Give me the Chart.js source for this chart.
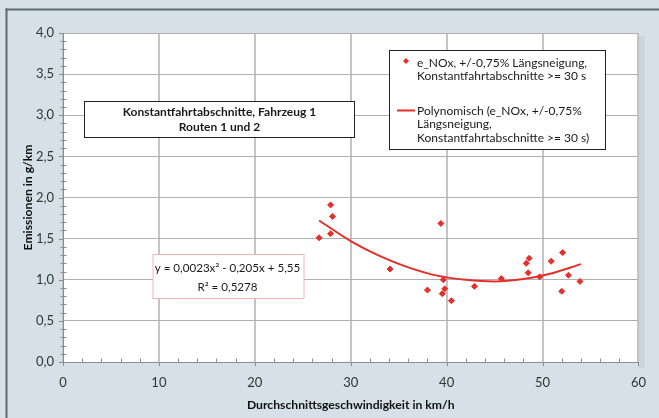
<!DOCTYPE html>
<html>
<head>
<meta charset="utf-8">
<script src="https://cdn.jsdelivr.net/npm/chart.js@4/dist/chart.umd.min.js"></script>
<style>
html,body{margin:0;padding:0;background:#d5e0e7;}
canvas{display:block;}
</style>
</head>
<body>
<canvas id="c" width="659" height="418"></canvas>
<script>
// ---- data ----
const speedKmh = [26.7, 27.9, 28.1, 27.9, 34.1, 38.0, 39.4, 39.65, 39.8, 39.55, 40.5, 42.9, 45.7, 48.3, 48.6, 48.5, 49.7, 50.9, 52.1, 52.0, 52.7, 53.9];
const noxGkm   = [1.51, 1.91, 1.77, 1.56, 1.13, 0.875, 1.685, 1.0, 0.89, 0.83, 0.745, 0.92, 1.015, 1.20, 1.26, 1.085, 1.035, 1.225, 1.33, 0.86, 1.055, 0.98];
const trendX = [26.7, 30, 33, 36, 39, 42, 45, 48, 51, 54];
const trendY = [1.72, 1.47, 1.29, 1.15, 1.05, 1.00, 0.98, 1.01, 1.08, 1.19];
const xTicks = [0, 10, 20, 30, 40, 50, 60];
const yTicks = [0, 0.5, 1.0, 1.5, 2.0, 2.5, 3.0, 3.5, 4.0];
const seriesLabel = ['e_NOx, +/-0,75% Längsneigung,', 'Konstantfahrtabschnitte >= 30 s'];
const trendLabel = ['Polynomisch (e_NOx, +/-0,75%', 'Längsneigung,', 'Konstantfahrtabschnitte >= 30 s)'];
const titleLines = ['Konstantfahrtabschnitte, Fahrzeug 1', 'Routen 1 und 2'];
const equationLines = ['y = 0,0023x² - 0,205x + 5,55', 'R² = 0,5278'];
const xTitle = 'Durchschnittsgeschwindigkeit in km/h';
const yTitle = 'Emissionen in g/km';

const FONT = 'Lato, "Open Sans", sans-serif';
const RED = '#e3302b';

const decorPlugin = {
  id: 'decor',
  beforeDraw(chart) {
    const ctx = chart.ctx, a = chart.chartArea;
    ctx.save();
    ctx.fillStyle = '#d5e0e7';
    ctx.fillRect(0, 0, chart.width, chart.height);
    ctx.fillStyle = '#5e6b73';
    ctx.fillRect(5.5, 8.5, 2, chart.height);
    ctx.fillRect(5.5, 8.5, chart.width, 2);
    ctx.fillStyle = 'rgba(0,0,0,0.05)';
    ctx.fillRect(a.right, a.top + 3, 6, a.bottom - a.top + 3);
    ctx.fillStyle = '#ffffff';
    ctx.fillRect(a.left, a.top, a.right - a.left, a.bottom - a.top);
    ctx.restore();
  },
  afterDraw(chart) {
    const ctx = chart.ctx;
    const xs = chart.scales.x, ys = chart.scales.y;
    const a = chart.chartArea;
    ctx.save();
    // minor ticks
    ctx.strokeStyle = '#8c8c8c';
    ctx.lineWidth = 1;
    ctx.beginPath();
    for (let v = 0; v <= 40; v += 1) {
      const val = v / 10;
      const y = Math.round(ys.getPixelForValue(val)) + 0.5;
      if (v % 5 === 0) { ctx.moveTo(a.left - 4, y); ctx.lineTo(a.left, y); }
      else { ctx.moveTo(a.left - 2.5, y); ctx.lineTo(a.left + 3.5, y); }
    }
    for (let v = 0; v <= 60; v += 2) {
      const x = Math.round(xs.getPixelForValue(v)) + 0.5;
      if (v % 10 === 0) { ctx.moveTo(x, a.bottom); ctx.lineTo(x, a.bottom + 4); }
      else { ctx.moveTo(x, a.bottom - 3.5); ctx.lineTo(x, a.bottom); }
    }
    ctx.stroke();

    // title box
    ctx.fillStyle = '#fff';
    ctx.strokeStyle = '#222';
    ctx.lineWidth = 1;
    ctx.fillRect(84, 101, 271, 36);
    ctx.strokeRect(84.5, 101.5, 270, 36);
    ctx.fillStyle = '#1a1a1a';
    ctx.font = 'bold 12px ' + FONT;
    ctx.textAlign = 'center';
    ctx.textBaseline = 'middle';
    ctx.fillText(titleLines[0], 219.5, 112);
    ctx.fillText(titleLines[1], 219.5, 127);

    // equation box
    ctx.fillStyle = '#fff';
    ctx.fillRect(153, 254, 151, 44);
    ctx.strokeStyle = '#f0b4b4';
    ctx.strokeRect(153, 254.5, 151, 44);
    ctx.fillStyle = '#1a1a1a';
    ctx.font = '11.6px ' + FONT;
    ctx.fillText(equationLines[0], 227.5, 268.5);
    ctx.fillText(equationLines[1], 227.5, 287.5);

    // legend box
    ctx.fillStyle = '#fff';
    ctx.fillRect(389, 50, 217, 100);
    ctx.strokeStyle = '#222';
    ctx.strokeRect(389.5, 50.5, 216, 99);
    ctx.fillStyle = RED;
    ctx.beginPath();
    ctx.moveTo(406, 58); ctx.lineTo(409, 61); ctx.lineTo(406, 64); ctx.lineTo(403, 61); ctx.closePath();
    ctx.fill();
    ctx.strokeStyle = RED;
    ctx.lineWidth = 2;
    ctx.beginPath(); ctx.moveTo(397, 110.5); ctx.lineTo(415, 110.5); ctx.stroke();
    ctx.fillStyle = '#1a1a1a';
    ctx.font = '12px ' + FONT;
    ctx.textAlign = 'left';
    ctx.fillText(seriesLabel[0], 417, 63);
    ctx.fillText(seriesLabel[1], 417, 76);
    ctx.fillText(trendLabel[0], 417, 111);
    ctx.fillText(trendLabel[1], 417, 124.5);
    ctx.fillText(trendLabel[2], 417, 138);
    ctx.restore();
  }
};

new Chart(document.getElementById('c'), {
  type: 'scatter',
  data: {
    datasets: [
      {
        label: seriesLabel.join(' '),
        data: speedKmh.map((x, i) => ({ x: x, y: noxGkm[i] })),
        pointStyle: 'rectRot',
        pointRadius: 3,
        backgroundColor: RED,
        borderColor: RED,
        borderWidth: 1,
        order: 1
      },
      {
        label: trendLabel.join(' '),
        data: trendX.map((x, i) => ({ x: x, y: trendY[i] })),
        showLine: true,
        pointRadius: 0,
        borderColor: RED,
        borderWidth: 2,
        cubicInterpolationMode: 'monotone',
        fill: false,
        order: 2
      }
    ]
  },
  options: {
    responsive: false,
    animation: false,
    devicePixelRatio: 1,
    layout: { padding: { top: 33, right: 12.5, left: 0, bottom: 0 } },
    plugins: { legend: { display: false }, tooltip: { enabled: false } },
    scales: {
      x: {
        type: 'linear', min: 0, max: 60,
        afterBuildTicks(s) { s.ticks = xTicks.map(v => ({ value: v })); },
        afterFit(s) { s.height = 56; },
        ticks: { padding: 13, color: '#333', font: { family: FONT, size: 13 }, callback: v => String(v), maxRotation: 0 },
        grid: { color: '#c4c4c4', lineWidth: 2, drawTicks: false },
        border: { display: true, color: '#8c8c8c', width: 1 },
        title: { display: true, text: xTitle, color: '#111', font: { family: FONT, size: 12.2, weight: 'bold', lineHeight: 1.2 }, padding: { top: 0, bottom: 5.8 } }
      },
      y: {
        type: 'linear', min: 0, max: 4,
        afterBuildTicks(s) { s.ticks = yTicks.map(v => ({ value: v })); },
        afterFit(s) { s.width = 63; },
        ticks: { padding: 9, color: '#333', font: { family: FONT, size: 13 }, callback: v => Number(v).toFixed(1).replace('.', ',') },
        grid: { color: '#b0b0b0', lineWidth: 1, drawTicks: false },
        border: { display: true, color: '#8c8c8c', width: 1 },
        title: { display: true, text: yTitle, color: '#111', font: { family: FONT, size: 12.2, weight: 'bold', lineHeight: 1.2 }, padding: { top: 20.8, bottom: 0 } }
      }
    }
  },
  plugins: [decorPlugin]
});
</script>
</body>
</html>
